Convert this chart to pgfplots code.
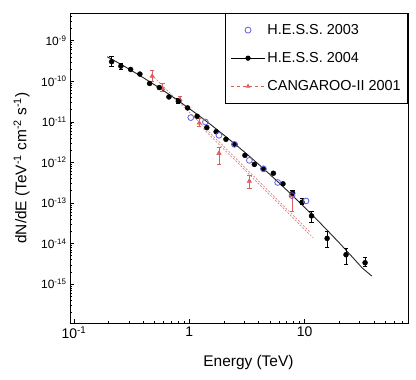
\documentclass[border=0pt]{standalone}
\usepackage{fontspec}
\setmainfont{Liberation Sans}
\usepackage{pgfplots}
\pgfplotsset{compat=1.18}
\usetikzlibrary{calc}
\definecolor{hessblue}{RGB}{95,95,225}
\definecolor{cangred}{RGB}{220,95,95}

\begin{document}
\begin{tikzpicture}
\begin{axis}[
  name=main,
  at={(0,0)}, anchor=south west,
  scale only axis, width=338bp, height=310bp,
  xmode=log, ymode=log,
  xmin=0.0923, xmax=79,
  ymin=1.1e-16, ymax=4.8e-9,
  xtick={0.1,1,10},
  xticklabels={10\textsuperscript{-1},1,10},
  ytick={1e-15,1e-14,1e-13,1e-12,1e-11,1e-10,1e-9},
  yticklabels={10\textsuperscript{-15},10\textsuperscript{-14},10\textsuperscript{-13},10\textsuperscript{-12},10\textsuperscript{-11},10\textsuperscript{-10},10\textsuperscript{-9}},
  minor xtick={0.2,0.3,0.4,0.5,0.6,0.7,0.8,0.9,2,3,4,5,6,7,8,9,20,30,40,50,60,70},
  minor ytick={2e-16,3e-16,4e-16,5e-16,6e-16,7e-16,8e-16,9e-16,
               2e-15,3e-15,4e-15,5e-15,6e-15,7e-15,8e-15,9e-15,
               2e-14,3e-14,4e-14,5e-14,6e-14,7e-14,8e-14,9e-14,
               2e-13,3e-13,4e-13,5e-13,6e-13,7e-13,8e-13,9e-13,
               2e-12,3e-12,4e-12,5e-12,6e-12,7e-12,8e-12,9e-12,
               2e-11,3e-11,4e-11,5e-11,6e-11,7e-11,8e-11,9e-11,
               2e-10,3e-10,4e-10,5e-10,6e-10,7e-10,8e-10,9e-10,
               2e-9,3e-9,4e-9},
  xtick pos=left, ytick pos=left,
  tick align=inside,
  major tick length=4bp, minor tick length=2.5bp,
  tick style={black, line width=0.5bp},
  axis line style={line width=0.8bp},
  xticklabel style={font=\fontsize{14}{16}\selectfont},
  yticklabel style={font=\fontsize{12}{14}\selectfont},
  xlabel={Energy (TeV)},
  ylabel={dN/dE (TeV\textsuperscript{-1} cm\textsuperscript{-2} s\textsuperscript{-1})},
  label style={font=\fontsize{15.5}{17}\selectfont},
  xlabel style={at={(axis description cs:0.528,-0.129)}, anchor=center},
  ylabel style={at={(axis description cs:-0.143,0.5)}, anchor=center},
  legend style={at={(1,1)}, anchor=north east, draw=black, fill=white,
                font=\fontsize{14.5}{16}\selectfont, inner xsep=5bp, inner ysep=9bp,
                row sep=12.5bp, line width=0.6bp},
  legend cell align=left,
  legend image code/.code={%
    \draw[mark repeat=2, mark phase=2, #1] plot coordinates {(0bp,0bp) (17bp,0bp) (34bp,0bp)};},
]
% legend entries
\addlegendimage{only marks, mark=o, hessblue, mark size=3bp, mark options={line width=0.8bp}}
\addlegendentry{H.E.S.S. 2003}
\addlegendimage{black, line width=0.8bp, mark=*, mark size=2.2bp}
\addlegendentry{H.E.S.S. 2004}
\addlegendimage{cangred, dashed, line width=0.6bp, mark=triangle*, mark size=2bp, mark options={solid}}
\addlegendentry{CANGAROO-II 2001}

% CANGAROO-II fit band (two dashed lines)
\addplot[forget plot, cangred!80, line width=0.7bp, dash pattern=on 2bp off 1.5bp]
  coordinates {(0.471,1.44e-10) (11.2,1.89e-14)};
\addplot[forget plot, cangred!80, line width=0.7bp, dash pattern=on 2bp off 1.5bp]
  coordinates {(1.32,6.8e-12) (11.9,1.37e-14)};

% CANGAROO-II 2001 points
\addplot[forget plot, only marks, cangred, mark=triangle*, mark size=2.6bp,
  error bars/.cd, y dir=both, y explicit,
  error bar style={cangred, line width=0.8bp},
  error mark options={cangred, rotate=90, mark size=2.2bp, line width=0.8bp}]
  coordinates {
  (0.477,1.34e-10) += (0,4.7e-11) -= (0,3.7e-11)
  (0.587,6.6e-11)  += (0,2.2e-11) -= (0,1.1e-11)
  (0.83,3.54e-11)  += (0,7.4e-12) -= (0,4.4e-12)
  (1.22,9.37e-12)  += (0,2.8e-12) -= (0,1.6e-12)
  (1.81,1.67e-12)  += (0,7.2e-13) -= (0,7.8e-13)
  (3.32,3.45e-13)  += (0,1.31e-13) -= (0,1.22e-13)
  (7.79,1.52e-13)  += (0,1.0e-14) -= (0,9.1e-14)
  };

% H.E.S.S. 2004 fit
\addplot[forget plot, black!85, line width=0.9bp]
  coordinates {
  (0.194,4.02e-10) (0.251,2.68e-10) (0.316,1.83e-10) (0.398,1.23e-10)
  (0.501,8.13e-11) (0.631,5.28e-11) (0.794,3.38e-11) (1.0,2.12e-11)
  (1.259,1.31e-11) (1.585,7.93e-12) (1.995,4.72e-12) (2.512,2.77e-12)
  (3.162,1.60e-12) (3.981,9.04e-13) (5.012,5.03e-13) (6.31,2.75e-13)
  (7.943,1.48e-13) (10.0,7.83e-14) (12.59,4.07e-14) (15.85,2.08e-14)
  (19.95,1.05e-14) (25.12,5.16e-15) (31.62,2.51e-15) (38.3,1.58e-15)
  };

% H.E.S.S. 2004 points
\addplot[forget plot, only marks, black, mark=*, mark size=2.5bp,
  error bars/.cd, y dir=both, y explicit,
  error bar style={black, line width=0.8bp},
  error mark options={black, rotate=90, mark size=2.2bp, line width=0.8bp}]
  coordinates {
  (0.212,3.03e-10) += (0,9.9e-11) -= (0,7.5e-11)
  (0.255,2.36e-10) += (0,3.9e-11) -= (0,4.1e-11)
  (0.31,1.95e-10)  += (0,0) -= (0,0)
  (0.373,1.50e-10) += (0,0) -= (0,0)
  (0.453,8.8e-11)  += (0,0) -= (0,0)
  (0.549,7.0e-11)  += (0,0) -= (0,0)
  (0.666,4.1e-11)  += (0,0) -= (0,0)
  (0.803,3.2e-11)  += (0,5.5e-12) -= (0,3.8e-12)
  (0.967,2.2e-11)  += (0,0) -= (0,0)
  (1.17,1.37e-11)  += (0,0) -= (0,0)
  (1.42,7.2e-12)   += (0,0) -= (0,0)
  (1.71,5.7e-12)   += (0,0) -= (0,0)
  (2.08,3.7e-12)   += (0,0) -= (0,0)
  (2.49,2.78e-12)  += (0,0) -= (0,0)
  (3.04,1.49e-12)  += (0,0) -= (0,0)
  (3.67,8.9e-13)   += (0,0) -= (0,0)
  (4.42,6.8e-13)   += (0,0) -= (0,0)
  (5.36,5.4e-13)   += (0,0) -= (0,0)
  (6.5,2.96e-13)   += (0,0) -= (0,0)
  (7.89,1.74e-13)  += (0,2.9e-14) -= (0,3.0e-14)
  (9.51,1.04e-13)  += (0,2.2e-14) -= (0,1.3e-14)
  (11.5,4.8e-14)   += (0,1.45e-14) -= (0,1.4e-14)
  (15.7,1.34e-14)  += (0,6.2e-15) -= (0,5.4e-15)
  (22.9,5.3e-15)   += (0,2.44e-15) -= (0,2.3e-15)
  (33.5,3.36e-15)  += (0,1.19e-15) -= (0,6.9e-16)
  };

% H.E.S.S. 2003 points
\addplot[forget plot, only marks, hessblue, mark=o, mark size=2.9bp,
  mark options={line width=0.8bp}]
  coordinates {
  (1.03,1.27e-11) (1.38,9.9e-12) (1.81,4.65e-12) (2.46,2.78e-12)
  (3.32,1.12e-12) (4.39,6.97e-13) (5.85,3.2e-13) (7.79,1.52e-13)
  (10.3,1.12e-13)
  };
\end{axis}
\path ($(main.south west)+(-70bp,-57bp)$) rectangle ($(main.north east)+(8bp,13bp)$);
\end{tikzpicture}
\end{document}
